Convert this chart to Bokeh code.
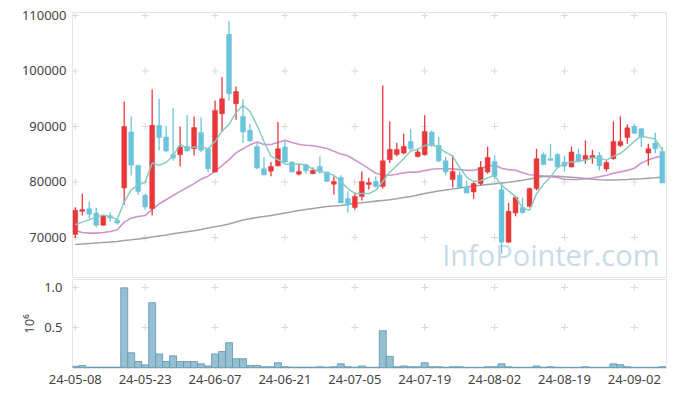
from bokeh.plotting import figure
from bokeh.layouts import column
from bokeh.models import ColumnDataSource, FixedTicker, Range1d, Label, NumeralTickFormatter
from bokeh.embed import file_html
from bokeh.resources import INLINE
import pandas as pd

dates = [
    "24-05-08", "24-05-09", "24-05-10", "24-05-13", "24-05-14", "24-05-16", "24-05-17",
    "24-05-20", "24-05-21", "24-05-22", "24-05-23", "24-05-24", "24-05-27", "24-05-28",
    "24-05-29", "24-05-30", "24-05-31", "24-06-03", "24-06-04", "24-06-05", "24-06-07",
    "24-06-10", "24-06-11", "24-06-12", "24-06-13", "24-06-14", "24-06-17", "24-06-18",
    "24-06-19", "24-06-20", "24-06-21", "24-06-24", "24-06-25", "24-06-26", "24-06-27",
    "24-06-28", "24-07-01", "24-07-02", "24-07-03", "24-07-04", "24-07-05", "24-07-08",
    "24-07-09", "24-07-10", "24-07-11", "24-07-12", "24-07-15", "24-07-16", "24-07-17",
    "24-07-18", "24-07-19", "24-07-22", "24-07-23", "24-07-24", "24-07-25", "24-07-26",
    "24-07-29", "24-07-30", "24-07-31", "24-08-01", "24-08-02", "24-08-05", "24-08-06",
    "24-08-07", "24-08-08", "24-08-09", "24-08-12", "24-08-13", "24-08-14", "24-08-16",
    "24-08-19", "24-08-20", "24-08-21", "24-08-22", "24-08-23", "24-08-26", "24-08-27",
    "24-08-28", "24-08-29", "24-08-30", "24-09-02", "24-09-03", "24-09-04", "24-09-05",
    "24-09-06",
]

opens = [70540, 74700, 75170, 74400, 72200, 73900, 73100, 78900, 89000, 83000,
         77600, 75200, 90200, 88100, 84900, 84900, 86400, 86000, 88900, 86000,
         81800, 92300, 106600, 94100, 91800, 89300, 86400, 82400, 81950, 82900,
         86300, 83600, 81400, 83100, 81500, 82800, 81800, 79600, 80800, 77000,
         75400, 77400, 79550, 80100, 79200, 84000, 84950, 85200, 87300, 84600,
         84900, 89000, 86600, 83800, 80450, 81200, 79000, 78200, 79700, 81800,
         83700, 78600, 69150, 74400, 75400, 75600, 78800, 84950, 84200, 84950,
         83600, 82700, 84950, 84050, 84400, 84770, 82350, 84200, 86580, 88000,
         90000, 89580, 85200, 87000, 85500]
highs = [75460, 77870, 76490, 75350, 73900, 74560, 73300, 94500, 91800, 83000,
         77870, 96670, 94990, 90180, 93280, 90000, 92000, 91800, 91620, 86200,
         94700, 98900, 109000, 97200, 94900, 90500, 87000, 84500, 83580, 90800,
         87400, 83700, 83280, 83300, 82600, 84600, 81800, 81050, 81200, 78340,
         78100, 81890, 80750, 81000, 97390, 90900, 87000, 88700, 89580, 86000,
         92000, 89280, 88080, 84500, 84770, 81900, 80200, 80000, 83760, 86400,
         84800, 80000, 76200, 77500, 77150, 79000, 86000, 85300, 86880, 85200,
         84770, 86400, 86000, 87480, 85800, 85380, 83870, 90960, 91800, 90360,
         90400, 89700, 86880, 88860, 86300]
lows = [69900, 73960, 73480, 71860, 72100, 72880, 72300, 75890, 81170, 77700,
        75050, 73960, 85680, 85370, 83870, 82850, 85500, 84770, 85370, 81800,
        81700, 89000, 94700, 91200, 87000, 87200, 82300, 81170, 81050, 82800,
        83400, 81700, 81170, 81500, 81400, 81500, 80000, 77700, 76200, 74500,
        75000, 76670, 78650, 79000, 78800, 83400, 84600, 84950, 85680, 84400,
        84770, 86280, 83570, 81170, 78980, 78800, 78000, 76970, 79370, 81470,
        80500, 67100, 69100, 73800, 74270, 75400, 78470, 83000, 83800, 82500,
        81890, 82600, 83500, 83280, 83280, 82070, 81890, 83990, 86280, 86880,
        88700, 86280, 82970, 85190, 79800]
closes = [74900, 75050, 74200, 72200, 73800, 73500, 72600, 90000, 83000, 78300,
          75500, 90200, 88000, 85600, 84300, 86300, 85600, 89800, 85700, 82400,
          92900, 95000, 95900, 96300, 89000, 87400, 82500, 81300, 82800, 86000,
          83600, 81800, 81900, 82000, 82100, 81800, 80100, 80100, 76200, 75900,
          77400, 80100, 79900, 79200, 83800, 85900, 85860, 86400, 86000, 85400,
          89100, 86600, 83800, 81800, 81900, 78950, 78000, 79700, 82600, 84400,
          81050, 69150, 74700, 77200, 74500, 78800, 84200, 83150, 83900, 82700,
          82850, 85400, 83750, 84770, 84770, 82900, 83500, 87300, 87300, 89760,
          88800, 88080, 86000, 86000, 79800]
volumes = [15000, 25000, 5000, 5000, 5000, 5000, 5000,
           996000, 184000, 75000, 33000, 810000, 170000,
           75000, 146000, 75000, 75000, 75000, 46000, 20000,
           170000, 200000, 310000, 110000, 110000, 25000, 25000,
           10000, 10000, 60000, 10000, 5000, 5000, 5000,
           5000, 10000, 5000, 10000, 46000, 10000, 3000,
           20000, 3000, 3000, 460000, 140000, 10000, 20000,
           10000, 10000, 60000, 10000, 10000, 3000, 10000,
           10000, 3000, 3000, 3000, 10000, 10000, 46000,
           10000, 3000, 3000, 3000, 20000, 3000, 10000,
           3000, 3000, 3000, 3000, 10000, 3000, 3000,
           3000, 46000, 35000, 10000, 3000, 3000, 3000,
           3000, 10000]

# moving-average values before enough in-window closes exist
ma5_head = [72300, 72760, 73190, 73660]
ma20_head = [71260, 70900, 70780, 70780, 70900, 71080, 71380, 72760, 73480, 73780,
             73960, 75050, 76070, 76790, 77570, 78300, 79000, 79700, 80500]
ma_long = [68740, 68830, 68920, 69010, 69100, 69190, 69280, 69460, 69590, 69730,
           69870, 70090, 70270, 70450, 70670, 70850, 71030, 71210, 71440, 71710,
           71930, 72160, 72430, 72790, 73150, 73370, 73600, 73780, 73960, 74180,
           74410, 74630, 74860, 75040, 75220, 75410, 75590, 75680, 75770, 75950,
           76130, 76250, 76400, 76540, 76670, 76790, 76970, 77210, 77390, 77660,
           77930, 78160, 78380, 78560, 78740, 78920, 79100, 79280, 79410, 79550,
           79680, 79820, 79960, 80130, 80310, 80540, 80810, 80990, 81050, 81030,
           80940, 80850, 80760, 80630, 80500, 80400, 80360, 80360, 80400, 80450,
           80520, 80590, 80680, 80770, 80900]

price_ticks = [70000, 80000, 90000, 100000, 110000]
vol_ticks = [0.5, 1.0]

RED = "#e8383a"
BLUE = "#6cc4dc"
FONT = "Noto Sans"

N = len(dates)
idx = list(range(N))
cs = pd.Series(closes, dtype=float)
ma5 = cs.rolling(5).mean().tolist()
ma5[:len(ma5_head)] = ma5_head
ma20 = cs.rolling(20).mean().tolist()
ma20[:len(ma20_head)] = ma20_head

colors = [RED if c >= o else BLUE for o, c in zip(opens, closes)]
src = ColumnDataSource(dict(
    x=idx, h=highs, l=lows,
    top=[max(o, c) for o, c in zip(opens, closes)],
    bot=[min(o, c) for o, c in zip(opens, closes)],
    color=colors,
    vol=[v / 1e6 for v in volumes],
    ma5=ma5, ma20=ma20, mal=ma_long,
))

xtick_pos = list(range(0, N, 10))
x_range = Range1d(-0.4, 84.6)

p1 = figure(frame_width=594, frame_height=266, min_border_left=72, min_border_right=5,
            min_border_top=12, min_border_bottom=0, x_range=x_range,
            y_range=Range1d(62600, 110540), x_axis_location=None,
            output_backend="svg", toolbar_location=None)
p1.grid.visible = False
p1.outline_line_color = "#e4e4e4"
p1.yaxis.ticker = FixedTicker(ticks=price_ticks)
p1.yaxis.formatter = NumeralTickFormatter(format="0")
p1.yaxis.axis_line_color = None
p1.yaxis.major_tick_line_color = None
p1.yaxis.minor_tick_line_color = None
p1.yaxis.major_tick_out = 0
p1.yaxis.minor_tick_out = 0
p1.yaxis.major_label_standoff = 6
p1.yaxis.major_label_text_font = FONT
p1.yaxis.major_label_text_font_size = "13px"
p1.yaxis.major_label_text_color = "#444444"

wm = Label(x=83.6, y=66850, text="InfoPointer.com", text_align="right",
           text_baseline="alphabetic", text_font="Open Sans", text_font_size="29px",
           text_color="#c8dbe6", level="underlay")
p1.add_layout(wm)

cx = [t for t in xtick_pos for _ in price_ticks]
cy = [v for _ in xtick_pos for v in price_ticks]
p1.scatter(cx, cy, marker="cross", size=7, line_color="#d9d9d9", line_width=1)

p1.line("x", "mal", source=src, line_color="#999999", line_width=1.6, line_alpha=0.9)
p1.line("x", "ma20", source=src, line_color="#c98ac6", line_width=1.6, line_alpha=0.9)
p1.segment("x", "h", "x", "l", source=src, line_color="color", line_width=1.3)
p1.vbar(x="x", top="top", bottom="bot", width=0.7, source=src,
        fill_color="color", line_color="color", line_width=0.5)
p1.line("x", "ma5", source=src, line_color="#85c9c1", line_width=1.5, line_alpha=0.95)

p2 = figure(frame_width=594, frame_height=89, min_border_left=72, min_border_right=5,
            min_border_top=1, min_border_bottom=2, x_range=x_range,
            y_range=Range1d(-0.0125, 1.1),
            output_backend="svg", toolbar_location=None)
p2.grid.visible = False
p2.outline_line_color = "#e4e4e4"
p2.yaxis.ticker = FixedTicker(ticks=vol_ticks)
p2.yaxis.formatter = NumeralTickFormatter(format="0.0")
p2.yaxis.axis_label = "10⁶"
p2.yaxis.axis_label_standoff = 3
p2.yaxis.axis_label_text_font = FONT
p2.yaxis.axis_label_text_font_style = "normal"
p2.yaxis.axis_label_text_font_size = "13px"
p2.yaxis.axis_label_text_color = "#444444"
p2.xaxis.ticker = FixedTicker(ticks=xtick_pos)
p2.xaxis.major_label_overrides = {i: dates[i] for i in xtick_pos}
for ax in (p2.xaxis, p2.yaxis):
    ax.axis_line_color = None
    ax.major_tick_line_color = None
    ax.minor_tick_line_color = None
    ax.major_tick_out = 0
    ax.minor_tick_out = 0
    ax.major_label_text_font = FONT
    ax.major_label_text_font_size = "13px"
    ax.major_label_text_color = "#444444"
p2.yaxis.major_label_standoff = 10
p2.xaxis.major_label_standoff = 6

vx = [t for t in xtick_pos for _ in vol_ticks]
vy = [v for _ in xtick_pos for v in vol_ticks]
p2.scatter(vx, vy, marker="cross", size=7, line_color="#d9d9d9", line_width=1)
p2.vbar(x="x", top="vol", bottom=0, width=1.0, source=src,
        fill_color="#96bfd2", line_color="#5f95b0", line_width=0.8)

layout = column(p1, p2, spacing=0)
open("out.html", "w").write(file_html(layout, INLINE))
